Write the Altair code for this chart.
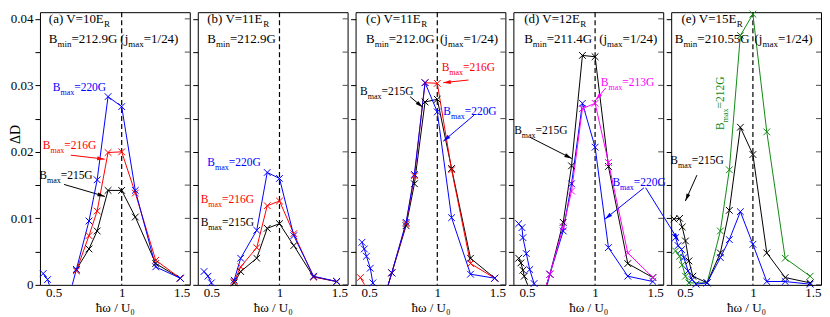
import math
import altair as alt
import pandas as pd

# ---------------- data ----------------
# panel (a)  V=10 E_R
a_x = [0.667, 0.76, 0.82, 0.90, 1.00, 1.10, 1.25, 1.43]
a_220 = [0.0023, 0.0096, 0.0158, 0.0283, 0.0268, 0.0142, 0.0027, 0.0010]
a_216 = [0.0021, 0.0074, 0.0111, 0.0199, 0.0200, 0.0138, 0.0037, 0.0010]
a_215 = [0.0023, 0.0054, 0.0081, 0.0142, 0.0142, 0.0102, 0.0032, 0.0010]
a_220_low_x = [0.424, 0.456, 0.56]
a_220_low = [0.0017, 0.0008, -0.006]

# panel (b)  V=11 E_R
b_x = [0.667, 0.715, 0.833, 0.91, 1.00, 1.105, 1.25, 1.42]
b_220 = [0.0007, 0.0040, 0.0082, 0.0169, 0.0160, 0.0074, 0.0013, 0.0005]
b_216 = [0.0005, 0.0027, 0.0056, 0.0119, 0.0126, 0.0077, 0.0012, 0.0005]
b_215 = [0.0003, 0.0020, 0.0040, 0.0085, 0.0092, 0.0059, 0.0012, 0.0005]
b_220_low_x = [0.446, 0.475, 0.50, 0.58]
b_220_low = [0.0020, 0.0013, 0.0003, -0.006]

# panel (c)  V=11 E_R
c_x = [0.666, 0.771, 0.832, 0.91, 1.00, 1.105, 1.244, 1.422]
c_220 = [0.0018, 0.0094, 0.0166, 0.0304, 0.0260, 0.0101, 0.0016, 0.0010]
c_216 = [0.0018, 0.0092, 0.0164, 0.0304, 0.0303, 0.0173, 0.0032, 0.0010]
c_215 = [0.0018, 0.0089, 0.0152, 0.0275, 0.0279, 0.0175, 0.0040, 0.0010]
c_220_low_x = [0.447, 0.464, 0.48, 0.508, 0.527, 0.58]
c_220_low = [0.0064, 0.0054, 0.0043, 0.0025, 0.0003, -0.004]
c_216_low_x = [0.435, 0.58]
c_216_low = [0.0011, -0.004]
c_215_low_x = [0.58]
c_215_low = [-0.004]

# panel (d)  V=12 E_R
d_x = [0.668, 0.766, 0.827, 0.907, 1.00, 1.098, 1.24, 1.424]
d_215 = [0.0016, 0.0094, 0.0179, 0.0345, 0.0343, 0.0178, 0.0032, 0.0011]
d_220 = [0.0016, 0.0081, 0.0152, 0.0273, 0.0207, 0.0056, 0.0013, 0.0005]
d_213 = [0.0016, 0.0087, 0.0141, 0.0265, 0.0273, 0.0184, 0.0048, 0.0011]
d_215_low_x = [0.439, 0.455, 0.47, 0.48, 0.58]
d_215_low = [0.0040, 0.0033, 0.0022, 0.0013, -0.004]
d_220_low_x = [0.439, 0.463, 0.47, 0.495, 0.52, 0.552, 0.60]
d_220_low = [0.0092, 0.0086, 0.0071, 0.0047, 0.0023, 0.0002, -0.004]
d_213_low_x = [0.58]
d_213_low = [-0.004]

# panel (e)  V=15 E_R
e_x = [0.664, 0.761, 0.827, 0.908, 1.00, 1.102, 1.237, 1.42]
e_212 = [0.0003, 0.0081, 0.0173, 0.0375, 0.0407, 0.0230, 0.0040, 0.0013]
e_215 = [0.0003, 0.0048, 0.0112, 0.0237, 0.0196, 0.0048, 0.0011, 0.0003]
e_220 = [0.0003, 0.0041, 0.0068, 0.0110, 0.0061, 0.0005, 0.0005, 0.0001]
e_215_low_x = [0.42, 0.462, 0.481, 0.505, 0.53, 0.559]
e_215_low = [0.0099, 0.0100, 0.0087, 0.0066, 0.0036, 0.0013]
e_220_low_x = [0.432, 0.451, 0.476, 0.493, 0.524, 0.553, 0.583]
e_220_low = [0.0071, 0.0059, 0.0053, 0.0041, 0.0021, 0.0008, 0.0001]
e_212_low_x = [0.432, 0.462, 0.481, 0.505, 0.53]
e_212_low = [0.0051, 0.0043, 0.0030, 0.0013, 0.0003]

BLUE, RED, BLACK, MAGENTA, GREEN = "#0000ff", "#ff0000", "#000000", "#ff00ff", "#128a12"

SERIES = [
    ("a", "215", BLACK, a_x, a_215),
    ("a", "216", RED, a_x, a_216),
    ("a", "220", BLUE, a_220_low_x + a_x, a_220_low + a_220),
    ("b", "215", BLACK, b_x, b_215),
    ("b", "216", RED, b_x, b_216),
    ("b", "220", BLUE, b_220_low_x + b_x, b_220_low + b_220),
    ("c", "215", BLACK, c_215_low_x + c_x, c_215_low + c_215),
    ("c", "216", RED, c_216_low_x + c_x, c_216_low + c_216),
    ("c", "220", BLUE, c_220_low_x + c_x, c_220_low + c_220),
    ("d", "215", BLACK, d_215_low_x + d_x, d_215_low + d_215),
    ("d", "220", BLUE, d_220_low_x + d_x, d_220_low + d_220),
    ("d", "213", MAGENTA, d_213_low_x + d_x, d_213_low + d_213),
    ("e", "212", GREEN, e_212_low_x + e_x, e_212_low + e_212),
    ("e", "215", BLACK, e_215_low_x + e_x, e_215_low + e_215),
    ("e", "220", BLUE, e_220_low_x + e_x, e_220_low + e_220),
]

# text annotations: panel, x, y (data coords of baseline start), colour, style, parts (text, subscript?)
ANNOT = [
    ("a", 0.465, 0.0393, BLACK, "h", [("(a) V=10E", 0), ("R", 1)]),
    ("a", 0.465, 0.0363, BLACK, "h", [("B", 0), ("min", 1), ("=212.9G", 0)]),
    ("a", 0.990, 0.0363, BLACK, "h", [("(j", 0), ("max", 1), ("=1/24)", 0)]),
    ("a", 0.494, 0.0292, BLUE, "l", [("B", 0), ("max", 1), ("=220G", 0)]),
    ("a", 0.421, 0.0204, RED, "l", [("B", 0), ("max", 1), ("=216G", 0)]),
    ("a", 0.395, 0.0159, BLACK, "l", [("B", 0), ("max", 1), ("=215G", 0)]),
    ("b", 0.470, 0.0393, BLACK, "h", [("(b) V=11E", 0), ("R", 1)]),
    ("b", 0.470, 0.0363, BLACK, "h", [("B", 0), ("min", 1), ("=212.9G", 0)]),
    ("b", 0.470, 0.0178, BLUE, "l", [("B", 0), ("max", 1), ("=220G", 0)]),
    ("b", 0.421, 0.0123, RED, "l", [("B", 0), ("max", 1), ("=216G", 0)]),
    ("b", 0.421, 0.0089, BLACK, "l", [("B", 0), ("max", 1), ("=215G", 0)]),
    ("c", 0.477, 0.0393, BLACK, "h", [("(c) V=11E", 0), ("R", 1)]),
    ("c", 0.477, 0.0363, BLACK, "h", [("B", 0), ("min", 1), ("=212.0G", 0)]),
    ("c", 1.020, 0.0363, BLACK, "h", [("(j", 0), ("max", 1), ("=1/24)", 0)]),
    ("c", 1.032, 0.0321, RED, "l", [("B", 0), ("max", 1), ("=216G", 0)]),
    ("c", 0.433, 0.0286, BLACK, "l", [("B", 0), ("max", 1), ("=215G", 0)]),
    ("c", 1.044, 0.0256, BLUE, "l", [("B", 0), ("max", 1), ("=220G", 0)]),
    ("d", 0.479, 0.0393, BLACK, "h", [("(d) V=12E", 0), ("R", 1)]),
    ("d", 0.479, 0.0363, BLACK, "h", [("B", 0), ("min", 1), ("=211.4G", 0)]),
    ("d", 1.030, 0.0363, BLACK, "h", [("(j", 0), ("max", 1), ("=1/24)", 0)]),
    ("d", 1.042, 0.0299, MAGENTA, "l", [("B", 0), ("max", 1), ("=213G", 0)]),
    ("d", 0.406, 0.0227, BLACK, "l", [("B", 0), ("max", 1), ("=215G", 0)]),
    ("d", 1.127, 0.0148, BLUE, "l", [("B", 0), ("max", 1), ("=220G", 0)]),
    ("e", 0.475, 0.0393, BLACK, "h", [("(e) V=15E", 0), ("R", 1)]),
    ("e", 0.426, 0.0363, BLACK, "h", [("B", 0), ("min", 1), ("=210.55G", 0)]),
    ("e", 1.012, 0.0363, BLACK, "h", [("(j", 0), ("max", 1), ("=1/24)", 0)]),
    ("e", 0.394, 0.0181, BLACK, "l", [("B", 0), ("max", 1), ("=215G", 0)]),
]
ANNOT_ROT = [
    ("e", 0.785, 0.0233, GREEN, "l", [("B", 0), ("max", 1), ("=212G", 0)]),
]

ARROWS = [
    ("a", 0.626, 0.0195, 0.875, 0.0189, RED),
    ("a", 0.577, 0.0151, 0.877, 0.0133, BLACK),
    ("c", 1.229, 0.0308, 1.044, 0.0304, RED),
    ("c", 0.800, 0.0283, 0.893, 0.0267, BLACK),
    ("c", 1.269, 0.0255, 1.044, 0.0216, BLUE),
    ("d", 1.078, 0.0296, 1.005, 0.0278, MAGENTA),
    ("d", 0.521, 0.0222, 0.829, 0.0190, BLACK),
    ("d", 1.359, 0.0146, 1.073, 0.0099, BLUE),
    ("d", 1.371, 0.0146, 1.611, 0.0067, BLUE),
    ("e", 0.589, 0.0165, 0.504, 0.0126, BLACK),
]

PANELS = ["a", "b", "c", "d", "e"]
Y_TICKS = [0.0, 0.005, 0.01, 0.015, 0.02, 0.025, 0.03, 0.035, 0.04]
X_TICKS = [0.5, 1.0, 1.5]

# ---------------- styling / layout ----------------
FONT = "Liberation Serif"
XMIN, XMAX = 0.4, 1.5
YMIN, YMAX = 0.0, 0.041
W, H = 150, 273
PXX = W / (XMAX - XMIN)
PXY = H / (YMAX - YMIN)
SIZES = {"h": (13, 9), "l": (11.5, 8)}
SUBSHIFT = 4

ADV = {"B": .667, "m": .778, "a": .444, "x": .5, "i": .278, "n": .5, "=": .564, ".": .25,
       "G": .722, " ": .25, "(": .333, ")": .333, "j": .278, "/": .278, "V": .722, "E": .611,
       "R": .667, "b": .5, "c": .444, "d": .5, "e": .444}


def text_width(s, size):
    return sum(ADV.get(ch, 0.5) for ch in s) * size


def rich_rows(x, y, color, style, parts, angle=0):
    rows, off = [], 0.0
    main, sub_size = SIZES[style]
    for txt, sub in parts:
        size = sub_size if sub else main
        shift = SUBSHIFT if sub else 0
        if angle == 0:
            rx, ry = x + off / PXX, y - shift / PXY
        else:
            rx, ry = x + shift / PXX, y + off / PXY
        rows.append(dict(x=rx, y=ry, text=txt, color=color, size=size))
        off += text_width(txt, size)
    return rows


XPATH = "M-1,-1L1,1M-1,1L1,-1"
HEAD = "M0,0L-0.4,1.5L0.4,1.5Z"

xs = alt.Scale(domain=[XMIN, XMAX], nice=False, zero=False)
ys = alt.Scale(domain=[YMIN, YMAX], nice=False, zero=False)


def panel_chart(p):
    first = p == "a"
    rows = []
    for (pp, name, col, xv, yv) in SERIES:
        if pp != p:
            continue
        for i, (xx, yy) in enumerate(sorted(zip(xv, yv))):
            rows.append(dict(series=name, color=col, x=xx, y=yy, o=i))
    df = pd.DataFrame(rows)

    trows = []
    for (pp, x, y, col, st, parts) in ANNOT:
        if pp == p:
            trows += rich_rows(x, y, col, st, parts)
    tdf = pd.DataFrame(trows)

    arows = []
    for (pp, x1, y1, x2, y2, col) in ARROWS:
        if pp != p:
            continue
        dxs = (x2 - x1) * PXX
        dys = -(y2 - y1) * PXY
        ang = math.degrees(math.atan2(dxs, -dys)) % 360
        arows.append(dict(x=x1, y=y1, x2=x2, y2=y2, color=col, ang=ang))

    xaxis = alt.Axis(values=X_TICKS, labelExpr="format(datum.value, '~g')", title="ħω / U₀",
                     tickSize=0, labelPadding=2, titlePadding=2, domain=False, grid=False,
                     labelFontSize=13, titleFontSize=13)
    if first:
        yaxis = alt.Axis(values=Y_TICKS, tickSize=5, labelPadding=2, domain=False, grid=False,
                         labelExpr="round(datum.value*1000) % 10 == 0 ? (datum.value == 0 ? '0' : format(datum.value, '.2f')) : ''",
                         title="ΔD", titleAngle=270, titleX=-24, titleY=122, titleAlign="center",
                         titleBaseline="middle", titleFontSize=14)
    else:
        yaxis = alt.Axis(values=Y_TICKS, tickSize=5, labels=False, domain=False, grid=False, title=None)

    X = lambda f: alt.X(f, scale=xs, axis=xaxis)
    Y = lambda f: alt.Y(f, scale=ys, axis=yaxis)

    dash = alt.Chart(pd.DataFrame({"x": [1.0]})).mark_rule(
        strokeDash=[5, 3], color="black", strokeWidth=1.2
    ).encode(x=X("x:Q"))

    # inward ticks on the right edge
    rticks = alt.Chart(pd.DataFrame({"y": Y_TICKS})).mark_tick(
        orient="horizontal", size=5, thickness=1, color="black"
    ).encode(y=Y("y:Q"), x=alt.value(W - 2.5))

    lines = alt.Chart(df).mark_line(clip=True, strokeWidth=1).encode(
        x=X("x:Q"), y=Y("y:Q"),
        color=alt.Color("color:N", scale=None),
        detail="series:N",
        order="o:Q",
    )
    points = alt.Chart(df).transform_filter("datum.y >= 0").mark_point(
        shape=XPATH, filled=False, size=45, strokeWidth=1, opacity=1
    ).encode(x=X("x:Q"), y=Y("y:Q"), color=alt.Color("color:N", scale=None))
    layers = [dash, rticks, lines, points]
    if len(arows):
        adf = pd.DataFrame(arows)
        layers.append(alt.Chart(adf).mark_rule(strokeWidth=1).encode(
            x=X("x:Q"), y=Y("y:Q"), x2="x2:Q", y2="y2:Q", color=alt.Color("color:N", scale=None)))
        layers.append(alt.Chart(adf).mark_point(shape=HEAD, filled=True, size=100, opacity=1).encode(
            x=X("x2:Q"), y=Y("y2:Q"),
            angle=alt.Angle("ang:Q", scale=None),
            color=alt.Color("color:N", scale=None)))
    layers.append(alt.Chart(tdf).mark_text(align="left", baseline="alphabetic", font=FONT).encode(
        x=X("x:Q"), y=Y("y:Q"),
        text="text:N", size=alt.Size("size:Q", scale=None), color=alt.Color("color:N", scale=None)))
    rrows = []
    for (pp, x, y, col, st, parts) in ANNOT_ROT:
        if pp == p:
            rrows += rich_rows(x, y, col, st, parts, angle=270)
    if rrows:
        layers.append(alt.Chart(pd.DataFrame(rrows)).mark_text(
            align="left", baseline="alphabetic", font=FONT, angle=270).encode(
            x=X("x:Q"), y=Y("y:Q"),
            text="text:N", size=alt.Size("size:Q", scale=None), color=alt.Color("color:N", scale=None)))

    return alt.layer(*layers).properties(width=W, height=H)


chart = alt.hconcat(*[panel_chart(p) for p in PANELS], spacing=8, bounds="flush", padding=0).configure_view(
    stroke="black", strokeWidth=1
).configure_axis(
    labelFont=FONT, titleFont=FONT, labelFontSize=13, titleFontSize=13, labelColor="black",
    titleColor="black", tickColor="black", titleFontWeight="normal", tickWidth=1
)

chart.save("out.html", embed_options={"renderer": "svg", "actions": False})
